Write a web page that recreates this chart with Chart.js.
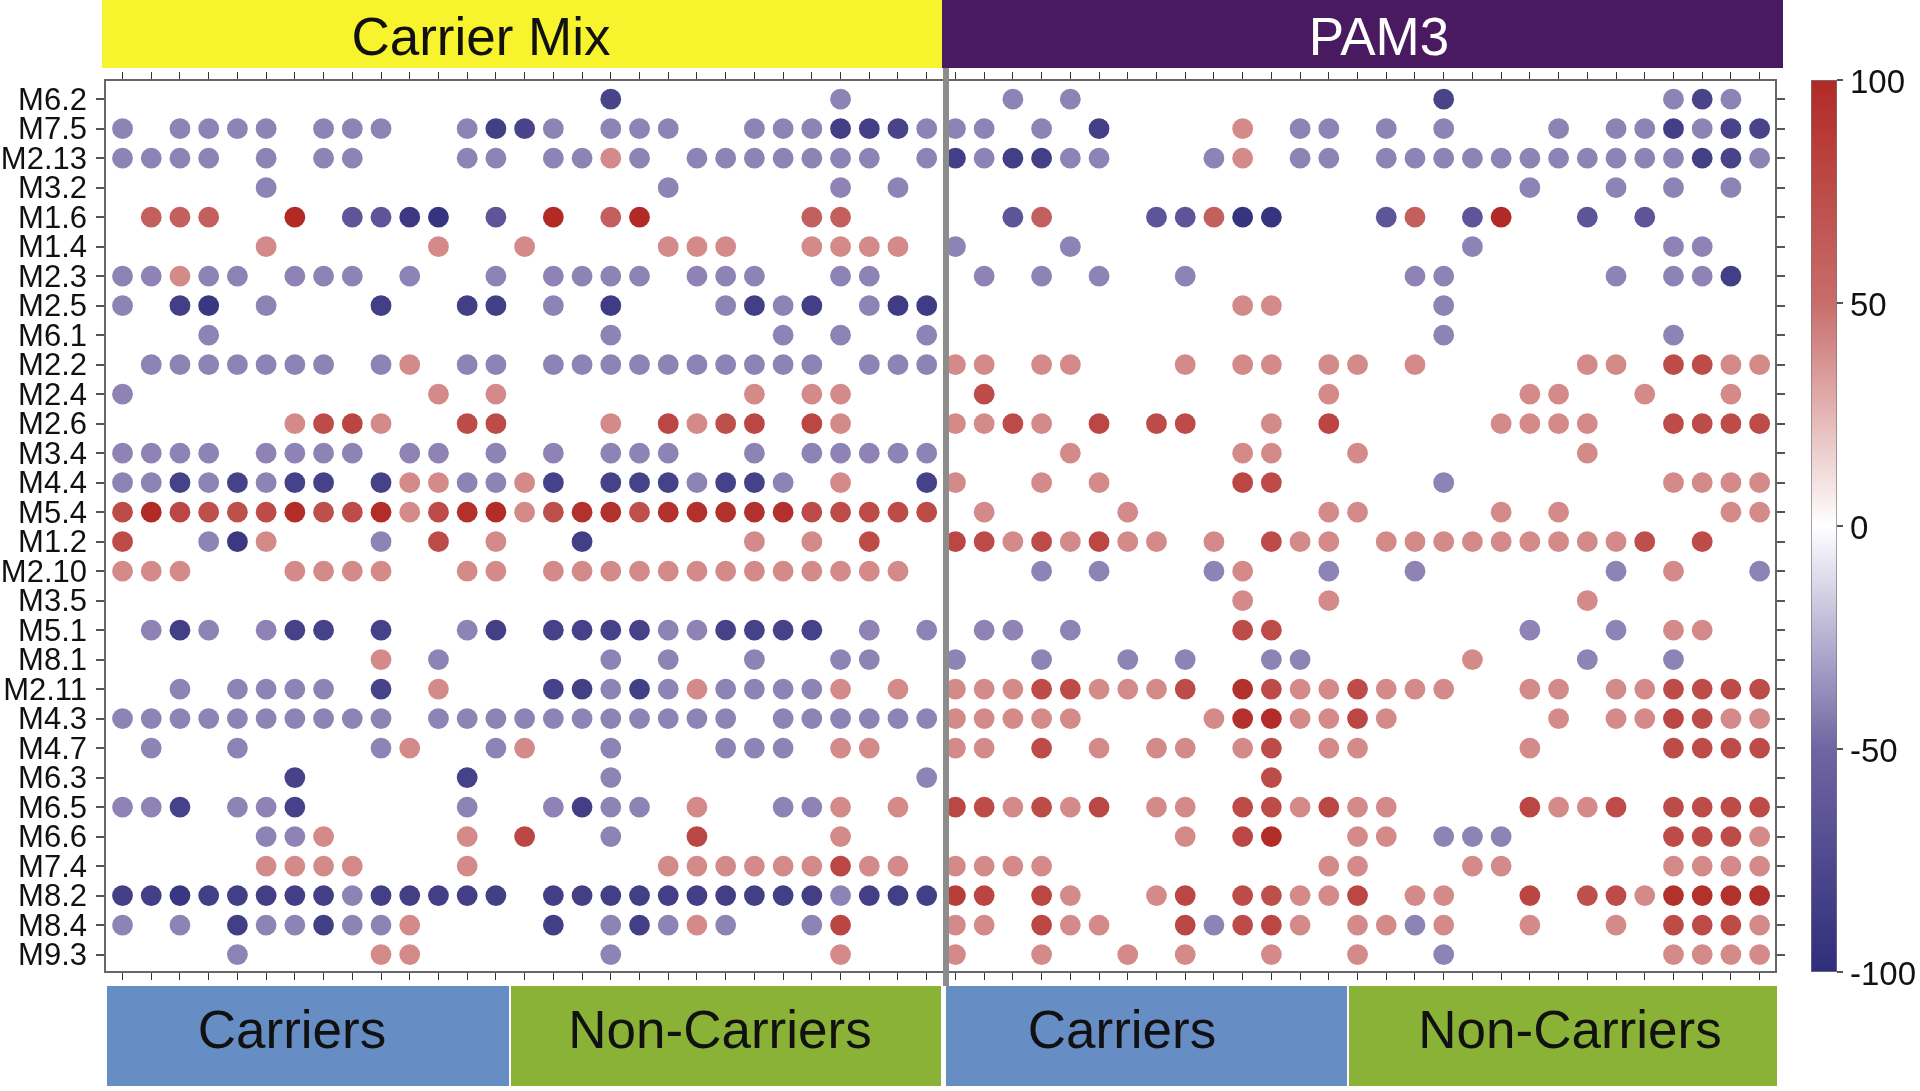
<!DOCTYPE html>
<html>
<head>
<meta charset="utf-8">
<title>Carrier Mix / PAM3 modules</title>
<script src="https://cdn.jsdelivr.net/npm/chart.js@4"></script>
<style>
  html, body { margin: 0; padding: 0; background: #fff; overflow: hidden; }
  #page { position: relative; width: 1920px; height: 1091px; font-family: "Liberation Sans", Arial, sans-serif; }
  canvas { position: absolute; top: 0; }
  .band { position: absolute; font-size: 53px; line-height: 1; color: #111; }
  .band span { position: absolute; transform: translateX(-50%); white-space: nowrap; }
  .top { top: 0; height: 68px; }
  .top span { top: 10px; }
  .bottom { top: 986px; height: 100px; }
  .bottom span { top: 17px; }
  #divider { position: absolute; left: 943px; width: 5.5px; top: 68px; height: 918px; background: #8c8c8c; }
</style>
</head>
<body>
<div id="page">
  <div class="band top" style="left:102px;width:840px;background:#f7f32c"><span style="left:379px">Carrier Mix</span></div>
  <div class="band top" style="left:942px;width:841px;background:#4a1a60;color:#fff"><span style="left:437px">PAM3</span></div>
  <div class="band bottom" style="left:107px;width:402px;background:#668dc4"><span style="left:185px">Carriers</span></div>
  <div class="band bottom" style="left:511px;width:430px;background:#89b236"><span style="left:209px">Non-Carriers</span></div>
  <div class="band bottom" style="left:946px;width:401px;background:#668dc4"><span style="left:176px">Carriers</span></div>
  <div class="band bottom" style="left:1349px;width:428px;background:#89b236"><span style="left:221px">Non-Carriers</span></div>
  <canvas id="dots" width="1920" height="1091" style="left:0"></canvas>
  <canvas id="scale" width="120" height="1091" style="left:1800px"></canvas>
  <div id="divider"></div>
</div>
<script>
const _ = null;

const rowLabels = ['M6.2', 'M7.5', 'M2.13', 'M3.2', 'M1.6', 'M1.4', 'M2.3', 'M2.5', 'M6.1', 'M2.2',
  'M2.4', 'M2.6', 'M3.4', 'M4.4', 'M5.4', 'M1.2', 'M2.10', 'M3.5', 'M5.1', 'M8.1',
  'M2.11', 'M4.3', 'M4.7', 'M6.3', 'M6.5', 'M6.6', 'M7.4', 'M8.2', 'M8.4', 'M9.3'];

// 58 donors per module: 29 Carrier Mix, then 29 PAM3
const M6_2 = [_,_,_,_,_, _,_,_,_,_, _,_,_,_,_, _,_,-80,_,_, _,_,_,_,_, -40,_,_,_,
  _,_,-40,_,-40, _,_,_,_,_, _,_,_,_,_, _,_,-80,_,_, _,_,_,_,_, -40,-80,-40,_];
const M7_5 = [-40,_,-40,-40,-40, -40,_,-40,-40,-40, _,_,-40,-85,-80, -40,_,-40,-40,-40, _,_,-40,-40,-40, -85,-85,-80,-40,
  -40,-40,_,-40,_, -85,_,_,_,_, 40,_,-40,-40,_, -40,_,-40,_,_, _,-40,_,-40,-40, -85,-40,-80,-80];
const M2_13 = [-40,-40,-40,-40,_, -40,_,-40,-40,_, _,_,-40,-40,_, -40,-40,40,-40,_, -40,-40,-40,-40,-40, -40,-40,_,-40,
  -85,-40,-85,-85,-40, -40,_,_,_,-40, 40,_,-40,-40,_, -40,-40,-40,-40,-40, -40,-40,-40,-40,-40, -40,-85,-80,-40];
const M3_2 = [_,_,_,_,_, -40,_,_,_,_, _,_,_,_,_, _,_,_,_,-40, _,_,_,_,_, -40,_,-40,_,
  _,_,_,_,_, _,_,_,_,_, _,_,_,_,_, _,_,_,_,_, -40,_,_,-40,_, -40,_,-40,_];
const M1_6 = [_,60,60,60,_, _,100,_,-65,-65, -90,-95,_,-65,_, 100,_,60,100,_, _,_,_,_,60, 60,_,_,_,
  _,_,-65,60,_, _,_,-65,-65,60, -95,-95,_,_,_, -65,60,_,-65,100, _,_,-65,_,-65, _,_,_,_];
const M1_4 = [_,_,_,_,_, 40,_,_,_,_, _,40,_,_,40, _,_,_,_,40, 40,40,_,_,40, 40,40,40,_,
  -40,_,_,_,-40, _,_,_,_,_, _,_,_,_,_, _,_,_,-40,_, _,_,_,_,_, -40,-40,_,_];
const M2_3 = [-40,-40,40,-40,-40, _,-40,-40,-40,_, -40,_,_,-40,_, -40,-40,-40,-40,_, -40,-40,-40,_,_, -40,-40,_,_,
  _,-40,_,-40,_, -40,_,_,-40,_, _,_,_,_,_, _,-40,-40,_,_, _,_,_,-40,_, -40,-40,-85,_];
const M2_5 = [-40,_,-85,-92,_, -40,_,_,_,-85, _,_,-85,-85,_, -40,_,-88,_,_, _,-40,-85,-40,-85, _,-40,-88,-88,
  _,_,_,_,_, _,_,_,_,_, 40,40,_,_,_, _,_,-40,_,_, _,_,_,_,_, _,_,_,_];
const M6_1 = [_,_,_,-40,_, _,_,_,_,_, _,_,_,_,_, _,_,-40,_,_, _,_,_,-40,_, -40,_,_,-40,
  _,_,_,_,_, _,_,_,_,_, _,_,_,_,_, _,_,-40,_,_, _,_,_,_,_, -40,_,_,_];
const M2_2 = [_,-40,-40,-40,-40, -40,-40,-40,_,-40, 40,_,-40,-40,_, -40,-40,-40,-40,-40, -40,-40,-40,-40,-40, _,-40,-40,-40,
  40,40,_,40,40, _,_,_,40,_, 40,40,_,40,40, _,40,_,_,_, _,_,40,40,_, 75,75,40,40];
const M2_4 = [-40,_,_,_,_, _,_,_,_,_, _,40,_,40,_, _,_,_,_,_, _,_,40,_,40, 40,_,_,_,
  _,75,_,_,_, _,_,_,_,_, _,_,_,40,_, _,_,_,_,_, 40,40,_,_,40, _,_,40,_];
const M2_6 = [_,_,_,_,_, _,40,75,80,40, _,_,75,75,_, _,_,40,_,78, 40,72,78,_,78, 40,_,_,_,
  40,40,75,40,_, 78,_,75,75,_, _,40,_,80,_, _,_,_,_,40, 40,40,40,_,_, 75,75,75,75];
const M3_4 = [-40,-40,-40,-40,_, -40,-40,-40,-40,_, -40,-40,_,-40,_, -40,_,-40,-40,-40, _,_,-40,_,-40, -40,-40,-40,-40,
  _,_,_,_,40, _,_,_,_,_, 40,40,_,_,40, _,_,_,_,_, _,_,40,_,_, _,_,_,_];
const M4_4 = [-40,-40,-82,-40,-82, -40,-82,-82,_,-82, 40,40,-40,-40,40, -82,_,-82,-82,-82, -40,-82,-82,-40,_, 40,_,_,-82,
  40,_,_,40,_, 40,_,_,_,_, 78,75,_,_,_, _,_,-40,_,_, _,_,_,_,_, 40,40,40,40];
const M5_4 = [75,100,78,72,72, 75,98,72,75,98, 40,75,95,98,40, 72,95,95,72,95, 95,95,95,95,75, 75,75,75,75,
  _,40,_,_,_, _,40,_,_,_, _,_,_,40,40, _,_,_,_,40, _,40,_,_,_, _,_,40,40];
const M1_2 = [75,_,_,-40,-90, 40,_,_,_,-40, _,75,_,40,_, _,-85,_,_,_, _,_,40,_,40, _,75,_,_,
  78,75,40,75,40, 78,40,40,_,40, _,75,40,40,_, 40,40,40,40,40, 40,40,40,40,72, _,75,_,_];
const M2_10 = [40,40,40,_,_, _,40,40,40,40, _,_,40,40,_, 40,40,40,40,40, 40,40,40,40,40, 40,40,40,_,
  _,_,_,-40,_, -40,_,_,_,-40, 40,_,_,-40,_, _,-40,_,_,_, _,_,_,-40,_, 40,_,_,-40];
const M3_5 = [_,_,_,_,_, _,_,_,_,_, _,_,_,_,_, _,_,_,_,_, _,_,_,_,_, _,_,_,_,
  _,_,_,_,_, _,_,_,_,_, 40,_,_,40,_, _,_,_,_,_, _,_,40,_,_, _,_,_,_];
const M5_1 = [_,-40,-85,-40,_, -40,-82,-82,_,-82, _,_,-40,-85,_, -82,-82,-82,-82,-40, -40,-82,-82,-82,-82, _,-40,_,-40,
  _,-40,-40,_,-40, _,_,_,_,_, 75,75,_,_,_, _,_,_,_,_, -40,_,_,-40,_, 40,40,_,_];
const M8_1 = [_,_,_,_,_, _,_,_,_,40, _,-40,_,_,_, _,_,-40,_,-40, _,_,-40,_,_, -40,-40,_,_,
  -40,_,_,-40,_, _,-40,_,-40,_, _,-40,-40,_,_, _,_,_,40,_, _,_,-40,_,_, -40,_,_,_];
const M2_11 = [_,_,-40,_,-40, -40,-40,-40,_,-82, _,40,_,_,_, -82,-85,-40,-85,-40, 40,-40,-40,-40,-40, 40,_,40,_,
  40,40,40,75,75, 40,40,40,75,_, 95,75,40,40,75, 40,40,40,_,_, 40,40,_,40,40, 75,75,75,75];
const M4_3 = [-40,-40,-40,-40,-40, -40,-40,-40,-40,-40, _,-40,-40,-40,-40, -40,-40,-40,-40,-40, -40,-40,_,-40,-40, -40,-40,-40,-40,
  40,40,40,40,40, _,_,_,_,40, 95,98,40,40,78, 40,_,_,_,_, _,40,_,40,40, 78,75,40,40];
const M4_7 = [_,-40,_,_,-40, _,_,_,_,-40, 40,_,_,-40,40, _,_,-40,_,_, _,-40,-40,-40,_, 40,40,_,_,
  40,40,_,75,_, 40,_,40,40,_, 40,75,_,40,40, _,_,_,_,_, 40,_,_,_,_, 75,75,75,75];
const M6_3 = [_,_,_,_,_, _,-82,_,_,_, _,_,-82,_,_, _,_,-40,_,_, _,_,_,_,_, _,_,_,-40,
  _,_,_,_,_, _,_,_,_,_, _,75,_,_,_, _,_,_,_,_, _,_,_,_,_, _,_,_,_];
const M6_5 = [-40,-40,-82,_,-40, -40,-82,_,_,_, _,_,-40,_,_, -40,-85,-40,-40,_, 40,_,_,-40,-40, 40,_,40,_,
  78,75,40,75,40, 78,_,40,40,_, 75,75,40,78,40, 40,_,_,_,_, 78,40,40,75,_, 75,75,75,75];
const M6_6 = [_,_,_,_,_, -40,-40,40,_,_, _,_,40,_,78, _,_,-40,_,_, 78,_,_,_,_, 40,_,_,_,
  _,_,_,_,_, _,_,_,40,_, 78,98,_,_,40, 40,_,-40,-40,-40, _,_,_,_,_, 75,75,75,40];
const M7_4 = [_,_,_,_,_, 40,40,40,40,_, _,_,40,_,_, _,_,_,_,40, 40,40,40,40,40, 78,40,40,_,
  40,40,40,40,_, _,_,_,_,_, _,_,_,40,40, _,_,_,40,40, _,_,_,_,_, 40,40,40,40];
const M8_2 = [-85,-85,-92,-85,-85, -85,-85,-85,-40,-85, -85,-85,-85,-85,_, -85,-85,-85,-85,-85, -85,-85,-85,-85,-85, -40,-85,-85,-85,
  85,80,_,78,40, _,_,40,78,_, 75,72,40,40,78, _,40,40,_,_, 80,_,72,75,40, 95,95,95,95];
const M8_4 = [-40,_,-40,_,-85, -40,-40,-85,-40,-40, 40,_,_,_,_, -85,_,-40,-85,-40, 40,-40,_,_,-40, 80,_,_,_,
  40,40,_,78,40, 40,_,_,78,-40, 75,78,40,_,40, 40,-40,40,_,_, 40,_,_,40,_, 75,75,75,40];
const M9_3 = [_,_,_,_,-40, _,_,_,_,40, 40,_,_,_,_, _,_,-40,_,_, _,_,_,_,_, 40,_,_,_,
  40,_,_,40,_, _,40,_,40,_, _,40,_,_,40, _,_,-40,_,_, _,_,_,_,_, 40,40,40,40];

const rows = [M6_2, M7_5, M2_13, M3_2, M1_6, M1_4, M2_3, M2_5, M6_1, M2_2,
  M2_4, M2_6, M3_4, M4_4, M5_4, M1_2, M2_10, M3_5, M5_1, M8_1,
  M2_11, M4_3, M4_7, M6_3, M6_5, M6_6, M7_4, M8_2, M8_4, M9_3];

const scaleTicks = [-100, -50, 0, 50, 100];
const scaleColors = [[47, 46, 122], [112, 101, 163], [255, 255, 255], [200, 109, 107], [177, 42, 37]];

// Same ramp for the dots and the colour bar
function colorFor(v) {
  const i = Math.min(Math.floor((v + 100) / 50), 3);
  const t = (v - scaleTicks[i]) / 50;
  const c = scaleColors[i].map((a, k) => Math.round(a + (scaleColors[i + 1][k] - a) * t));
  return `rgb(${c[0]}, ${c[1]}, ${c[2]})`;
}

const points = [];
rows.forEach((row, y) => row.forEach((v, x) => {
  if (v !== null) points.push({ x, y, v });
}));

const fontFamily = "'Liberation Sans', Arial, sans-serif";
Chart.defaults.font.family = fontFamily;
Chart.defaults.animation = false;

const xAxis = (position, height) => ({
  type: 'linear',
  axis: 'x',
  position,
  min: -0.61,
  max: 57.57,
  afterFit: (s) => { s.height = height; },
  border: { color: '#666', width: 2 },
  grid: { drawOnChartArea: false, tickLength: 8, color: '#333', lineWidth: 1 },
  ticks: { display: false, stepSize: 1, includeBounds: false, autoSkip: false }
});

const yAxis = (position, width, showLabels) => ({
  type: 'linear',
  axis: 'y',
  position,
  reverse: true,
  min: -0.65,
  max: 29.59,
  afterFit: (s) => { s.width = width; },
  border: { color: '#666', width: 2 },
  grid: { drawOnChartArea: false, tickLength: 9, color: '#555', lineWidth: 2 },
  ticks: {
    display: showLabels,
    stepSize: 1,
    includeBounds: false,
    autoSkip: false,
    padding: 9,
    labelOffset: 2,
    color: '#111',
    font: { size: 31 },
    callback: (v) => rowLabels[v]
  }
});

new Chart(document.getElementById('dots'), {
  type: 'scatter',
  data: {
    datasets: [{
      data: points,
      pointRadius: 10.4,
      pointHoverRadius: 10.4,
      pointBorderWidth: 0,
      pointBackgroundColor: (ctx) => colorFor(ctx.raw.v)
    }]
  },
  options: {
    responsive: false,
    events: [],
    plugins: { legend: { display: false }, tooltip: { enabled: false } },
    scales: {
      x: xAxis('bottom', 119),
      xTop: xAxis('top', 80),
      y: yAxis('left', 105, true),
      yRight: yAxis('right', 144, false)
    }
  }
});

new Chart(document.getElementById('scale'), {
  type: 'bar',
  data: {
    labels: ['scale'],
    datasets: [{
      data: [[scaleTicks[0], scaleTicks[4]]],
      barPercentage: 1,
      categoryPercentage: 1,
      borderColor: '#777',
      borderWidth: 1,
      borderSkipped: false,
      backgroundColor: (ctx) => {
        const area = ctx.chart.chartArea;
        if (!area) return 'transparent';
        const gradient = ctx.chart.ctx.createLinearGradient(0, area.bottom, 0, area.top);
        scaleTicks.forEach((v, i) => gradient.addColorStop(i / 4, colorFor(v)));
        return gradient;
      }
    }]
  },
  options: {
    responsive: false,
    events: [],
    layout: { padding: { left: 11, top: 80, bottom: 119 } },
    plugins: { legend: { display: false }, tooltip: { enabled: false } },
    scales: {
      x: { display: false },
      y: {
        position: 'right',
        min: -100,
        max: 100,
        afterFit: (s) => { s.width = 83; },
        border: { display: false },
        grid: { drawOnChartArea: false, tickLength: 6, color: '#555', lineWidth: 2 },
        ticks: { stepSize: 50, padding: 7, labelOffset: 4, color: '#111', font: { size: 33 } }
      }
    }
  }
});
</script>
</body>
</html>
